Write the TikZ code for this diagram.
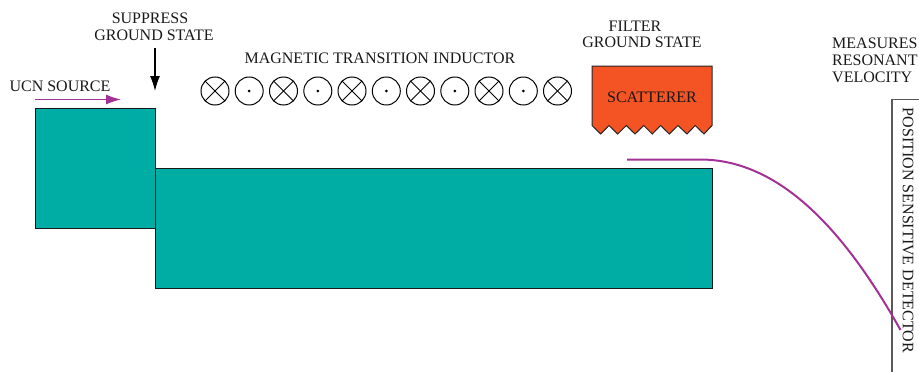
\documentclass[tikz,border=0pt]{standalone}
\usepackage{fontspec}
\setmainfont{Liberation Serif}
\usepackage{xcolor}
\usetikzlibrary{arrows.meta,calc}
\definecolor{guidecolor}{RGB}{0,173,165}
\definecolor{scattercolor}{RGB}{244,83,36}
\definecolor{beamcolor}{RGB}{163,50,150}
\tikzset{
  guide box/.style={
    rectangle,
    draw=black!90,
    fill=guidecolor,
    line width=1pt,
    inner sep=0pt
  },
  field in/.style={
    circle,
    draw=black,
    line width=1pt,
    minimum size=28pt,
    inner sep=0pt,
    path picture={
      \draw[line width=1pt] (path picture bounding box.north west) -- (path picture bounding box.south east);
      \draw[line width=1pt] (path picture bounding box.north east) -- (path picture bounding box.south west);
    }
  },
  field out/.style={
    circle,
    draw=black,
    line width=1pt,
    minimum size=28pt,
    inner sep=0pt,
    path picture={
      \fill[black] (path picture bounding box.center) circle (1.5pt);
    }
  },
  label/.style={
    font=\fontsize{16}{17}\selectfont,
    text=black!90,
    inner sep=0pt
  },
  beam/.style={
    draw=beamcolor,
    line width=2pt
  },
  beam arrow/.style={
    draw=beamcolor,
    line width=1.2pt,
    -{Latex[length=15pt,width=10pt]}
  },
  push arrow/.style={
    draw=black,
    line width=1.2pt,
    -{Latex[length=15pt,width=10pt]}
  }
}
\begin{document}
\begin{tikzpicture}[x=1pt,y=-1pt]
  \useasboundingbox (0,0) rectangle (919,372);
  % Guides
  \node[guide box,minimum width=120pt,minimum height=120pt] (source) at (95,168) {};
  \node[guide box,minimum width=557pt,minimum height=120pt] (guide) at (433.5,228) {};

  % Source label and arrows
  \node[label] (ucn) at (60,86) {UCN SOURCE};
  \coordinate (ucn start) at (35,99.5);
  \coordinate (ucn end) at (121,99.5);
  \draw[beam arrow] (ucn start) -- (ucn end);

  \node[label] (suppress) at (150,18) {SUPPRESS};
  \node[label] (ground) at (154,35) {GROUND STATE};
  \coordinate (push start) at (155,48);
  \coordinate (push end) at (155,91);
  \draw[push arrow] (push start) -- (push end);

  % Inductor
  \node[label] (inductor) at (380,58) {MAGNETIC TRANSITION INDUCTOR};
  \node[field in] (m1) at (215,91) {};
  \node[field out] (m2) at (249.2,91) {};
  \node[field in] (m3) at (283.5,91) {};
  \node[field out] (m4) at (317.8,91) {};
  \node[field in] (m5) at (352,91) {};
  \node[field out] (m6) at (386.3,91) {};
  \node[field in] (m7) at (420.5,91) {};
  \node[field out] (m8) at (454.8,91) {};
  \node[field in] (m9) at (489,91) {};
  \node[field out] (m10) at (523.3,91) {};
  \node[field in] (m11) at (557.5,91) {};

  % Scatterer
  \draw[fill=scattercolor,draw=black!85,line width=1pt,line join=miter]
    (592,66) -- (712,66) -- (712,125.5)
    -- (704,134) -- (695.2,125.5) -- (687,134) -- (678,125.5) -- (669.3,134)
    -- (660.5,125.5) -- (652.3,134) -- (643.7,125.5) -- (635,134) -- (626.3,125.5)
    -- (617.7,134) -- (609,125.5) -- (600.7,134) -- (592,125.5) -- cycle;
  \node[label] (scatterer) at (652,97.5) {SCATTERER};
  \node[label] (filter) at (635,26) {FILTER};
  \node[label] (filter ground) at (642,42.5) {GROUND STATE};

  % Detector
  \coordinate (det bottom) at (892,372);
  \coordinate (det corner) at (892,99.5);
  \coordinate (det right) at (919,99.5);
  \draw[draw=black!65,line width=1.2pt] (det bottom) -- (det corner) -- (det right);
  \node[label,rotate=-90] (detector) at (908,230.5) {POSITION SENSITIVE DETECTOR};
  \node[label,anchor=west,align=left] (measures) at (832,60.5) {MEASURES\\RESONANT\\VELOCITY};

  % Neutron path
  \coordinate (path start) at (627,159.5);
  \coordinate (path end) at (900.5,330);
  \draw[beam] (path start) -- (700,159.5) .. controls (775,159.5) and (840,222) .. (path end);
\end{tikzpicture}
\end{document}
